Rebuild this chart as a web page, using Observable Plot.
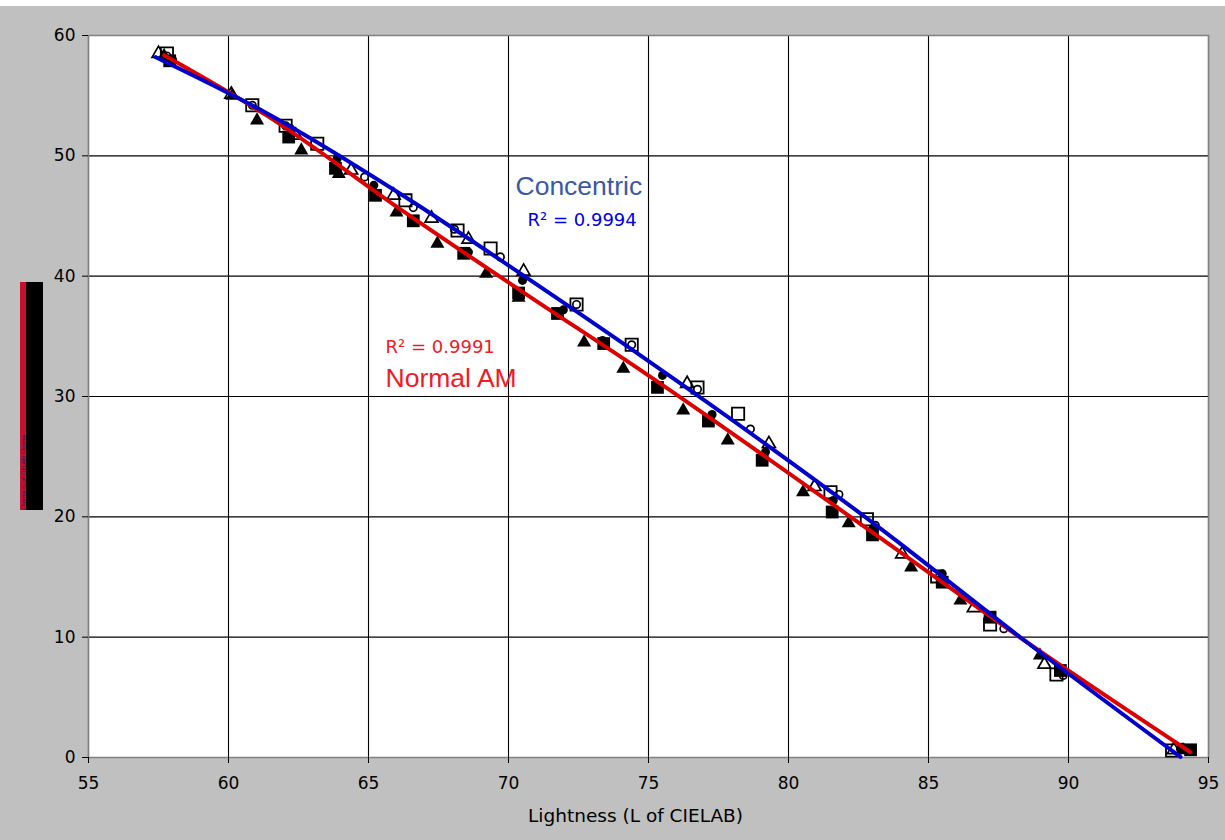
<!DOCTYPE html>
<html>
<head>
<meta charset="utf-8">
<script src="https://cdn.jsdelivr.net/npm/d3@7"></script>
<script src="https://cdn.jsdelivr.net/npm/@observablehq/plot@0.6"></script>
<style>
  html, body { margin: 0; padding: 0; background: #ffffff; }
  #wrap { position: absolute; left: 0; top: 6px; width: 1225px; height: 834px; background: #c0c0c0; overflow: hidden; }
  #ylab { position: absolute; left: 20px; top: 276px; width: 23px; height: 228px; background: #000; }
  #ylab .stripe { position: absolute; left: 0; top: 0; width: 6px; height: 228px; background: #c8102e; overflow: hidden; }
  #ylab .stripe span { position: absolute; left: 0; top: 0; width: 228px; height: 6px; transform-origin: 0 0; transform: translate(0px, 228px) rotate(-90deg); font: 5px "DejaVu Sans"; color: #1a1a60; line-height: 6px; white-space: nowrap; }
</style>
</head>
<body>
<div id="wrap">
  <div id="ylab"><div class="stripe"><span>Chroma (C of CIELAB) Chroma</span></div></div>
</div>
<script>
// Axis ticks
const xTicks = [55, 60, 65, 70, 75, 80, 85, 90, 95];
const yTicks = [0, 10, 20, 30, 40, 50, 60];

// Normal AM (filled markers)
const filledTriangleX = [57.7, 60.14, 61.02, 62.6, 63.94, 66.0, 67.46, 69.2, 70.36, 72.7, 74.1, 76.24, 77.83, 80.52, 82.15, 84.38, 86.14, 88.98, 94.1];
const filledTriangleY = [58.3, 55.0, 52.95, 50.45, 48.5, 45.3, 42.7, 40.2, 38.2, 34.5, 32.3, 28.85, 26.35, 22.05, 19.48, 15.8, 13.05, 8.48, 0.6];
const filledCircleX = [58.0, 62.2, 63.88, 65.19, 68.57, 70.5, 71.96, 73.36, 75.5, 77.27, 79.18, 81.6, 83.0, 85.49, 87.2, 89.7, 94.06];
const filledCircleY = [58.0, 52.3, 49.76, 47.55, 42.0, 39.65, 37.2, 34.66, 31.75, 28.5, 25.4, 21.36, 19.0, 15.27, 11.8, 7.4, 0.86];
const filledSquareX = [57.9, 62.15, 63.82, 65.25, 66.6, 68.4, 70.36, 71.75, 73.4, 75.32, 77.14, 79.06, 81.56, 83.0, 85.49, 87.2, 89.71, 94.36];
const filledSquareY = [57.9, 51.56, 48.96, 46.72, 44.6, 41.9, 38.6, 36.9, 34.4, 30.76, 27.96, 24.7, 20.4, 18.5, 14.57, 11.66, 7.23, 0.64];

// Concentric (open markers)
const openTriangleX = [57.5, 60.1, 62.4, 64.38, 65.9, 67.25, 68.57, 70.54, 76.38, 79.3, 80.93, 84.06, 86.62, 89.14, 93.76];
const openTriangleY = [58.5, 55.1, 51.7, 48.8, 46.72, 44.8, 43.06, 40.4, 31.06, 26.07, 22.5, 16.9, 12.44, 7.73, 0.64];
const openCircleX = [57.8, 60.85, 62.04, 64.86, 66.6, 68.07, 69.71, 72.43, 74.4, 76.75, 78.64, 81.8, 83.1, 85.4, 87.69, 89.81, 94.0];
const openCircleY = [58.3, 54.2, 52.5, 48.24, 45.7, 43.9, 41.6, 37.65, 34.3, 30.6, 27.3, 21.86, 19.3, 15.1, 10.7, 6.82, 0.7];
const openSquareX = [57.8, 60.85, 62.04, 63.17, 66.32, 68.18, 69.36, 72.43, 74.4, 76.75, 78.2, 81.5, 82.8, 85.31, 87.2, 89.57, 93.7];
const openSquareY = [58.5, 54.2, 52.5, 51.0, 46.3, 43.8, 42.3, 37.65, 34.3, 30.75, 28.56, 22.05, 19.8, 15.05, 11.06, 6.9, 0.58];

// Trend curves
const normalFitX = [57.7, 61.4, 66.3, 70.5, 74.9, 83.0, 88.5, 94.35];
const normalFitY = [58.35, 53.3, 45.3, 38.7, 31.9, 18.7, 9.6, 0.45];
const concentricFitX = [57.4, 61.4, 66.3, 70.5, 74.9, 83.3, 88.5, 94.0];
const concentricFitY = [58.2, 53.5, 46.6, 40.1, 33.1, 19.0, 9.6, 0.05];

// Labels
const xLabel = "Lightness (L of CIELAB)";
const concentricName = "Concentric";
const concentricR2 = "R² = 0.9994";
const normalName = "Normal AM";
const normalR2 = "R² = 0.9991";

const zip = (xs, ys) => xs.map((x, i) => ({x, y: ys[i]}));

const chart = Plot.plot({
  width: 1225,
  height: 834,
  marginLeft: 88,
  marginRight: 17,
  marginTop: 29,
  marginBottom: 83,
  style: {background: "transparent", fontFamily: "DejaVu Sans", fontSize: "17px", color: "#000"},
  x: {domain: [55, 95], label: null},
  y: {domain: [0, 60], label: null},
  marks: [
    Plot.frame({fill: "white", stroke: "none"}),
    Plot.gridX(xTicks, {stroke: "#000", strokeOpacity: 1, strokeWidth: 1.1}),
    Plot.gridY(yTicks, {stroke: "#000", strokeOpacity: 1, strokeWidth: 1.1}),
    Plot.frame({stroke: "#808080", strokeWidth: 1.5}),
    Plot.axisX(xTicks, {tickSize: 6, tickPadding: 13, tickFormat: d => String(d), label: null, stroke: "#000"}),
    Plot.axisY(yTicks, {tickSize: 6, tickPadding: 7, tickFormat: d => String(d), label: null, stroke: "#000"}),
    Plot.text([xLabel], {frameAnchor: "bottom", dx: -13, dy: 64, fontSize: 18.5, fill: "#000"}),

    Plot.dot(zip(filledSquareX, filledSquareY), {x: "x", y: "y", symbol: "square", r: 7.2, fill: "#000", stroke: "none"}),
    Plot.dot(zip(filledTriangleX, filledTriangleY), {x: "x", y: "y", symbol: "triangle", r: 5.2, fill: "#000", stroke: "none"}),
    Plot.dot(zip(filledCircleX, filledCircleY), {x: "x", y: "y", symbol: "circle", r: 4.5, fill: "#000", stroke: "none"}),
    Plot.dot(zip(openSquareX, openSquareY), {x: "x", y: "y", symbol: "square", r: 6.9, fill: "none", stroke: "#000", strokeWidth: 1.8}),
    Plot.dot(zip(openTriangleX, openTriangleY), {x: "x", y: "y", symbol: "triangle", r: 4.8, fill: "none", stroke: "#000", strokeWidth: 1.7}),
    Plot.dot(zip(openCircleX, openCircleY), {x: "x", y: "y", symbol: "circle", r: 3.7, fill: "none", stroke: "#000", strokeWidth: 1.7}),

    Plot.line(zip(normalFitX, normalFitY), {x: "x", y: "y", curve: "monotone-x", stroke: "#dd0000", strokeWidth: 4}),
    Plot.line(zip(concentricFitX, concentricFitY), {x: "x", y: "y", curve: "monotone-x", stroke: "#0000cc", strokeWidth: 4}),

    Plot.text([concentricName], {x: 70.25, y: 47.46, textAnchor: "start", lineAnchor: "middle", fontFamily: "Liberation Sans", fontSize: 26.5, fill: "#3b58a6"}),
    Plot.text([concentricR2], {x: 70.68, y: 44.64, textAnchor: "start", lineAnchor: "middle", fontFamily: "DejaVu Sans", fontSize: 18, fill: "#0000e0"}),
    Plot.text([normalR2], {x: 65.61, y: 34.08, textAnchor: "start", lineAnchor: "middle", fontFamily: "DejaVu Sans", fontSize: 18, fill: "#e8202a"}),
    Plot.text([normalName], {x: 65.61, y: 31.5, textAnchor: "start", lineAnchor: "middle", fontFamily: "Liberation Sans", fontSize: 26.5, fill: "#ee1c25"})
  ]
});
document.getElementById("wrap").appendChild(chart);
</script>
</body>
</html>
